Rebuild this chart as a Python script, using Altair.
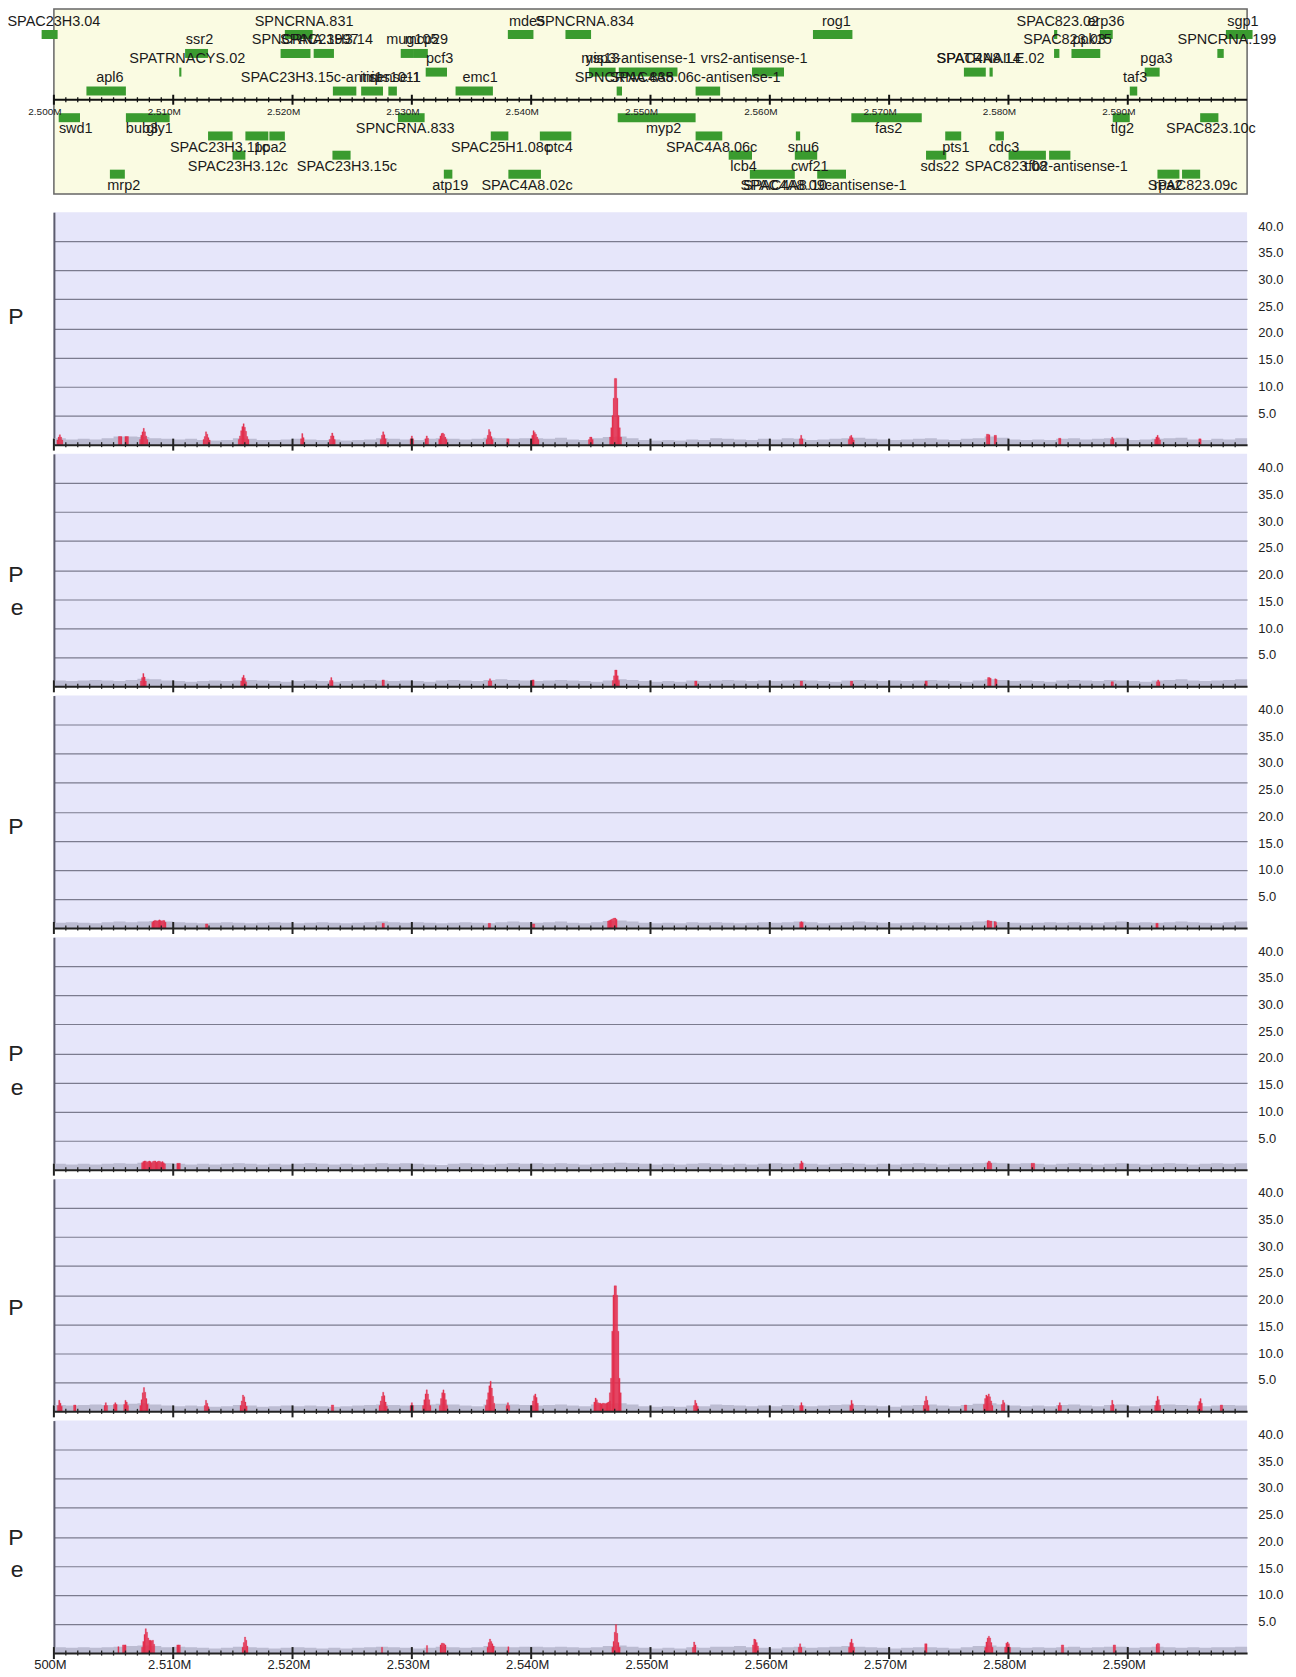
import altair as alt
import pandas as pd

FONT = "Liberation Sans, Arial, Helvetica, sans-serif"
X0, X1 = 2500000, 2600000
W = 1196
GENE_H = 185.5
PANEL_H = 233

GREEN = "#3a9b2f"
RED = "#e3314f"
GRAY = "#bcbcd2"
LAV = "#e6e6fa"
YEL = "#fafbe2"

# ---------------- gene track data ----------------
gene_names = [
    "SPAC23H3.04", "SPNCRNA.831", "mde5", "SPNCRNA.834", "rog1", "SPAC823.02", "erp36", "sgp1",
    "ssr2", "SPNCRNA.1997", "SPAC23H3.14", "mug105", "mcp29", "SPAC823.03", "ppk15", "SPNCRNA.199",
    "SPATRNACYS.02", "pcf3", "mis13", "ysp3-antisense-1", "vrs2-antisense-1", "SPAC4A8.14", "SPATRNAILE.02", "pga3",
    "apl6", "SPAC23H3.15c-antisense-1", "ini1", "rps1011", "emc1", "SPNCRNA.835", "SPAC4A8.06c-antisense-1", "taf3",
    "swd1", "bub3", "gly1", "SPNCRNA.833", "myp2", "fas2", "tlg2", "SPAC823.10c",
    "SPAC23H3.11c", "ppa2", "", "SPAC25H1.08c", "ptc4", "SPAC4A8.06c", "snu6", "pts1", "cdc3",
    "SPAC23H3.12c", "SPAC23H3.15c", "lcb4", "cwf21", "sds22", "SPAC823.08", "tfb2-antisense-1",
    "mrp2", "atp19", "SPAC4A8.02c", "SPAC4A8.09c", "SPAC4A8.10-antisense-1", "rpa2", "SPAC823.09c",
]
gene_starts = [
    2498972, 2519357, 2538045, 2542873, 2563615, 2583822, 2587666, 2598222,
    2510997, 2518999, 2521772, 2529067, 2530176, 2583822, 2585281, 2597506,
    2510506, 2531160, 2544840, 2547343, 2558507, 2576267, 2578413, 2591419,
    2502727, 2523381, 2525750, 2528030, 2533663, 2547164, 2553780, 2590168,
    2500402, 2506035, 2507466, 2528834, 2547253, 2566833, 2588739, 2596067,
    2512920, 2516049, 2518061, 2536614, 2540727, 2553780, 2562183, 2574701, 2578904,
    2514976, 2523345, 2556552, 2562094, 2573092, 2580010, 2583407,
    2504694, 2532680, 2538089, 2558328, 2563972, 2592487, 2594548,
]
gene_ends = [
    2500313, 2521682, 2540191, 2545019, 2566923, 2584090, 2588739, 2600458,
    2512920, 2521503, 2523471, 2530176, 2531339, 2584269, 2587695, 2598043,
    2510685, 2532948, 2547075, 2552260, 2561189, 2578100, 2578681, 2592671,
    2506035, 2525348, 2527583, 2528745, 2536793, 2547611, 2555837, 2590794,
    2502190, 2507466, 2509700, 2531070, 2553780, 2572734, 2590168, 2597596,
    2514976, 2517972, 2519357, 2538089, 2543365, 2556015, 2562541, 2576042, 2579619,
    2516049, 2524865, 2558507, 2563972, 2574790, 2583139, 2585191,
    2505946, 2533395, 2540817, 2562094, 2566386, 2594329, 2596067,
]
gene_lanes = (
    [1] * 8 + [2] * 8 + [3] * 8 + [4] * 8 + [5] * 8 + [6] * 9 + [7] * 7 + [8] * 7
)
gene_label_pos = [
    2500000, 2520967, 2539654, 2544483, 2565582, 2584135, 2588170, 2599650,
    2512205, 2521060, 2522845, 2530042, 2531222, 2584700, 2587020, 2598311,
    2511176, 2532322, 2545820, 2549175, 2558686, 2577500, 2578500, 2592403,
    2504694, 2523200, 2526600, 2528610, 2535720, 2547790, 2553740, 2590615,
    2501833, 2507380, 2508850, 2529443, 2551098, 2569962, 2589543, 2596962,
    2513880, 2518150, 2518150, 2537470, 2542340, 2555121, 2562810, 2575595, 2579619,
    2515420, 2524550, 2557805, 2563347, 2574254, 2579800, 2585660,
    2505856, 2533216, 2539654, 2561380, 2564600, 2593385, 2595442,
]

ruler_major = list(range(2500000, 2600000, 10000))
ruler_minor = [p for p in range(2501000, 2600000, 1000) if p % 10000 != 0]
grid_values = [5, 10, 15, 20, 25, 30, 35]
y_label_values = [5, 10, 15, 20, 25, 30, 35, 40]

# ---------------- background coverage (tenths, 1 kb bins) ----------------
bg_1 = [11,9,10,9,11,14,14,13,11,10, 9,10,8,7,8,11,10,8,8,9, 10,9,8,9,7,8,9,11,10,9,
        8,10,11,10,9,10,12,11,10,11, 11,10,12,9,8,11,13,14,11,8, 7,8,7,9,8,11,10,9,8,10,
        9,11,10,8,9,10,11,12,10,9, 8,9,10,11,9,8,10,11,14,12, 9,8,9,8,10,11,9,10,11,12,
        8,9,10,11,12,9,8,10,9,11]
bg_2 = [10,9,10,11,10,9,11,13,12,10, 9,8,9,10,9,10,11,10,9,8, 9,10,9,8,9,10,11,10,9,10,
        9,8,10,11,10,9,11,12,11,10, 9,10,11,10,9,8,10,12,11,9, 8,9,8,10,9,10,11,10,9,10,
        9,10,11,10,9,8,10,11,10,9, 10,9,10,11,10,9,8,10,12,11, 9,10,9,8,10,11,10,9,11,10,
        9,8,10,11,12,10,9,10,11,12]
bg_3 = [9,10,9,8,10,11,10,11,12,11, 10,9,8,9,10,9,8,9,10,9, 8,9,10,9,8,9,10,11,10,9,
        10,9,8,9,10,9,8,10,11,10, 9,10,11,9,8,10,12,13,11,9, 8,9,8,10,9,10,9,8,9,10,
        9,10,11,10,8,9,10,11,10,9, 8,9,10,9,8,9,10,11,12,10, 9,8,9,10,9,10,9,8,10,11,
        9,10,9,10,11,10,9,8,10,11]
bg_4 = [10,9,10,9,10,11,10,12,12,11, 10,9,10,9,10,11,10,9,10,9, 10,11,10,9,10,9,10,11,10,11,
        10,9,8,10,11,10,9,10,11,10, 11,10,11,10,9,10,11,12,11,10, 9,10,9,10,11,10,9,10,9,10,
        11,10,11,10,9,10,11,10,9,10, 9,10,11,10,9,10,10,11,12,11, 10,11,10,9,10,11,10,9,10,11,
        10,9,10,11,10,9,10,11,10,11]
bg_5 = [11,10,11,12,11,12,13,14,12,10, 9,10,9,8,9,11,10,8,9,10, 9,10,9,8,9,10,11,12,11,10,
        11,12,13,12,10,9,12,13,12,11, 10,11,12,10,9,12,13,14,12,9, 8,9,8,10,9,12,11,10,9,10,
        9,11,10,9,10,11,12,11,10,9, 8,10,11,12,10,9,11,13,14,12, 10,9,10,9,11,12,10,9,11,12,
        9,10,11,12,11,10,9,10,11,10]
bg_6 = [10,9,10,9,10,11,12,13,12,10, 11,10,9,8,9,11,10,9,8,9, 10,9,8,9,8,9,10,11,10,9,
        8,9,11,10,9,10,12,11,10,11, 11,10,11,10,9,10,12,13,11,9, 8,9,8,10,9,11,11,12,10,9,
        8,10,11,9,10,11,12,11,10,9, 8,9,10,10,9,8,10,12,13,11, 10,9,10,9,10,11,9,10,11,11,
        9,10,11,10,9,10,9,10,10,11]

# ---------------- enriched peaks: (centre, heights of consecutive 100 bp bins) ----------------
peaks_1 = [
    (2500500, [0.8, 1.3, 1.7, 1.3, 0.8]), (2505550, [1.4, 1.4, 1.4]), (2506100, [1.4, 1.4, 1.4]),
    (2507530, [0.9, 1.6, 2.2, 2.8, 2.2, 1.5, 0.9]), (2512800, [0.9, 1.4, 2.2, 1.8, 1.2, 0.8]),
    (2515900, [0.9, 1.5, 2.4, 3.1, 3.6, 3.0, 2.3, 1.4, 0.9]), (2520820, [1.0, 1.9, 1.2]),
    (2523330, [0.9, 1.5, 2.0, 1.5, 0.9]), (2527600, [0.9, 1.6, 2.2, 1.7, 1.0]),
    (2530000, [1.0, 1.5, 1.0]), (2531250, [1.0, 1.5, 1.1]),
    (2532600, [0.9, 1.5, 1.9, 2.0, 1.8, 1.3, 0.9]), (2536520, [0.9, 1.6, 2.6, 2.2, 1.4, 0.9]),
    (2538050, [1.0, 1.0]), (2540300, [0.9, 1.6, 2.4, 2.1, 1.8, 1.3, 0.9]),
    (2545000, [0.9, 1.3, 1.3, 0.9]),
    (2547070, [1.3, 2.9, 5.0, 8.0, 11.4, 11.4, 8.0, 5.0, 2.9, 1.3]),
    (2562630, [1.0, 1.6, 1.0]), (2566830, [0.9, 1.4, 1.6, 1.2, 0.8]),
    (2578300, [1.8, 1.8, 1.7]), (2578900, [1.6, 1.6]), (2584300, [1.1, 1.1]),
    (2588700, [0.9, 1.3, 1.0]), (2592500, [0.9, 1.3, 1.6, 1.2, 0.8]), (2596050, [1.0, 1.0]),
]
peaks_2 = [
    (2507500, [0.9, 1.5, 2.2, 1.6, 0.9]), (2515900, [0.9, 1.5, 1.9, 1.4, 0.8]),
    (2523250, [1.0, 1.5, 1.0]), (2527600, [1.1, 1.1]), (2536550, [0.9, 1.3, 0.9]),
    (2540150, [1.1, 1.1]), (2547100, [1.0, 1.8, 2.8, 2.8, 1.8, 1.0]), (2553800, [0.9, 0.9]),
    (2562650, [0.9, 0.9]), (2566850, [0.9, 0.9]), (2573100, [0.9, 0.9]),
    (2578400, [1.5, 1.5, 1.4]), (2578950, [1.3, 1.2]), (2588700, [0.8, 0.8]),
    (2592550, [0.8, 1.1, 0.8]),
]
peaks_3 = [
    (2508800, [1.0, 1.2, 1.3, 1.3, 1.2, 1.3, 1.4, 1.3, 1.2, 1.3, 1.3, 1.0]),
    (2512800, [0.7, 0.7]), (2527600, [0.8, 0.8]), (2536500, [0.8, 0.8]), (2540200, [0.7, 0.7]),
    (2546800, [1.2, 1.3, 1.4, 1.5, 1.6, 1.7, 1.7, 1.5]), (2562650, [1.0, 1.1, 1.0]),
    (2578400, [1.3, 1.3, 1.2, 1.2]), (2578900, [1.1, 1.0]), (2592450, [0.8, 0.8]),
]
peaks_4 = [
    (2508350, [1.2, 1.4, 1.5, 1.5, 1.3, 1.4, 1.5, 1.4, 1.2, 1.4,
               1.5, 1.5, 1.3, 1.4, 1.5, 1.4, 1.3, 1.4, 1.2, 1.0]),
    (2510450, [1.1, 1.1, 1.1]), (2562650, [1.0, 1.5, 1.2]), (2578400, [1.2, 1.5, 1.4, 1.1]),
    (2582050, [1.1, 1.1, 1.1]),
]
peaks_5 = [
    (2500500, [1.0, 1.9, 1.4, 0.9]), (2501750, [1.1, 1.1]), (2504350, [1.0, 1.5, 1.0]),
    (2505150, [1.2, 1.5, 1.2]), (2506050, [1.2, 1.9, 1.6, 1.0]),
    (2507550, [1.0, 2.0, 3.2, 4.1, 3.3, 2.2, 1.2]), (2512800, [1.0, 1.9, 1.4, 0.8]),
    (2515900, [1.0, 1.8, 2.8, 2.5, 1.6, 0.9]), (2523350, [1.1, 1.1]),
    (2527600, [1.0, 1.8, 2.6, 3.3, 2.7, 1.6, 0.9]), (2530000, [1.0, 1.5, 1.0]),
    (2531250, [1.0, 2.0, 3.0, 3.7, 3.0, 2.0, 1.0]), (2532650, [1.0, 2.2, 3.2, 3.7, 3.1, 2.0, 1.0]),
    (2536550, [1.0, 2.0, 3.2, 4.4, 5.2, 4.0, 2.6, 1.4]), (2538050, [1.0, 1.5, 1.0]),
    (2540300, [1.0, 1.8, 2.7, 3.0, 2.4, 1.4]),
    (2545950, [1.6, 2.3, 2.0, 1.5, 1.4, 1.4, 1.3, 1.4, 1.4, 1.3, 1.4, 1.5, 1.6, 1.8]),
    (2547050, [3.2, 5.7, 13.8, 20.0, 21.6, 21.6, 20.0, 13.8, 5.7, 3.2]),
    (2553800, [1.0, 1.9, 1.4, 0.9]), (2562650, [1.0, 1.5, 1.0]), (2566850, [1.0, 1.9, 1.3]),
    (2573100, [1.0, 1.8, 2.6, 1.9, 1.0]), (2576400, [1.1, 1.1]),
    (2578300, [1.2, 2.2, 2.8, 2.6, 3.0, 2.5, 1.8, 1.0]), (2579550, [1.2, 1.9, 1.5]),
    (2584300, [1.0, 1.5, 1.0]), (2588700, [1.0, 1.9, 1.2]), (2592500, [1.0, 1.8, 2.6, 2.0, 1.0]),
    (2596050, [1.0, 1.7, 2.2, 1.4]), (2597850, [1.1, 1.1]),
]
peaks_6 = [
    (2505410, [1.1]), (2505900, [1.4, 1.4, 1.4]),
    (2507900, [1.0, 2.0, 3.2, 4.2, 3.6, 2.6, 2.2, 2.2, 2.1, 2.2, 1.5]),
    (2510450, [1.4, 1.4, 1.4]), (2516020, [1.0, 1.8, 2.75, 2.2, 1.2]), (2527500, [1.0]),
    (2531270, [1.3]), (2532610, [1.4, 1.7, 1.7, 1.6, 1.4]),
    (2536600, [1.0, 1.8, 2.4, 2.0, 1.6, 1.2]), (2538090, [1.1]),
    (2547110, [1.0, 2.0, 3.6, 4.9, 3.4, 1.8, 1.0]), (2553660, [1.0, 1.9, 1.4]),
    (2558800, [1.4, 2.4, 2.3, 1.8, 1.2]), (2562540, [1.0, 1.6, 1.0]),
    (2566850, [1.0, 1.8, 2.4, 1.7, 1.0]), (2573080, [1.6, 1.6]),
    (2578360, [1.0, 1.9, 2.6, 2.9, 2.6, 1.8, 1.0]), (2579930, [1.0, 1.7, 1.9, 1.6, 1.0]),
    (2584530, [1.4, 1.4]), (2588880, [1.4, 1.4]), (2592520, [1.5, 1.7, 1.6]),
]

track_labels = [["P"], ["P", "e"], ["P"], ["P", "e"], ["P"], ["P", "e"]]

# ---------------- style / layout constants ----------------
LANE_BAR_Y = {1: 25.6, 2: 44.6, 3: 63.3, 4: 82.3, 5: 109.0, 6: 127.3, 7: 146.6, 8: 165.6}
BAR_H = 9
RULER_Y = 91.0
LABEL_BASELINES = [[111.7], [128.2, 161.5], [138.3], [124, 158], [136.3], [125, 157]]
TRACK_LABEL_X = -30.5

xs_g = alt.Scale(domain=[X0, X1], nice=False, zero=False)
ys_g = alt.Scale(domain=[0, GENE_H], reverse=True, nice=False, zero=False)

bar_y = [LANE_BAR_Y[l] for l in gene_lanes]
gdf = pd.DataFrame({
    "start": gene_starts, "end": gene_ends,
    "y0": [b - BAR_H / 2 for b in bar_y], "y1": [b + BAR_H / 2 for b in bar_y],
})
ldf = pd.DataFrame({
    "label": gene_names, "lx": gene_label_pos,
    "ly": [b - 13 if l <= 4 else b + 11.7 for b, l in zip(bar_y, gene_lanes)],
})
ldf = ldf[ldf["label"] != ""]

bars = alt.Chart(gdf).mark_rect(color=GREEN).encode(
    x=alt.X("start:Q", scale=xs_g, axis=None), x2="end:Q",
    y=alt.Y("y0:Q", scale=ys_g, axis=None), y2="y1:Q")
glabels = alt.Chart(ldf).mark_text(font=FONT, fontSize=14.5, color="#1a1a1a", baseline="middle").encode(
    x=alt.X("lx:Q", scale=xs_g, axis=None), y=alt.Y("ly:Q", scale=ys_g, axis=None), text="label:N")
ruler = alt.Chart(pd.DataFrame({"a": [X0], "b": [X1]})).mark_rule(color="#111", strokeWidth=2).encode(
    x=alt.X("a:Q", scale=xs_g, axis=None), x2="b:Q", y=alt.value(RULER_Y))
rmaj = alt.Chart(pd.DataFrame({"p": ruler_major})).mark_rule(color="#111", strokeWidth=2).encode(
    x=alt.X("p:Q", scale=xs_g, axis=None), y=alt.value(RULER_Y - 5), y2=alt.value(RULER_Y + 5))
rmin = alt.Chart(pd.DataFrame({"p": ruler_minor})).mark_rule(color="#111", strokeWidth=1.3).encode(
    x=alt.X("p:Q", scale=xs_g, axis=None), y=alt.value(RULER_Y - 2.5), y2=alt.value(RULER_Y + 2.5))
rlab = alt.Chart(pd.DataFrame({"p": ruler_major, "t": [f"{p / 1e6:.3f}M" for p in ruler_major]})).mark_text(
    font=FONT, fontSize=10, color="#222", align="right", dx=7.7, baseline="middle").encode(
    x=alt.X("p:Q", scale=xs_g, axis=None), y=alt.value(RULER_Y + 12), text="t:N")

gene_chart = alt.layer(bars, glabels, ruler, rmaj, rmin, rlab).properties(
    width=W, height=GENE_H,
    view=alt.ViewBackground(fill=YEL, stroke="#666", strokeWidth=1.5))


def expand(peaks):
    rows = []
    for c, hs in peaks:
        s = c - len(hs) * 50
        for i, h in enumerate(hs):
            rows.append({"start": s + i * 100, "end": s + (i + 1) * 100, "v": h})
    return pd.DataFrame(rows)


def panel(bg, peaks, lines, baselines, last):
    xs = alt.Scale(domain=[X0, X1], nice=False, zero=False)
    ys = alt.Scale(domain=[0, 40], nice=False, zero=False)
    xaxis = alt.Axis(title=None, domain=True, domainColor="#222", domainWidth=2, ticks=False,
                     grid=False, labels=last, values=ruler_major, zindex=1,
                     labelExpr="datum.value == 2500000 ? '500M' : format(datum.value / 1000000, '.3f') + 'M'",
                     labelFont=FONT, labelFontSize=13, labelColor="#222", labelPadding=5,
                     labelOffset=-4, labelFlush=False, labelOverlap=False)
    yaxis = alt.Axis(title=None, orient="left", domain=True, domainColor="#5c5c6e", domainWidth=2,
                     ticks=False, labels=False, grid=True, gridColor="#7b7b8e", gridWidth=1.2,
                     values=grid_values)
    bgdf = pd.DataFrame({"pos": [X0 + i * 1000 for i in range(len(bg))] + [X1],
                         "v": [b / 10 for b in bg] + [bg[-1] / 10]})
    area = alt.Chart(bgdf).mark_area(interpolate="step-after", color=GRAY).encode(
        x=alt.X("pos:Q", scale=xs, axis=xaxis), y=alt.Y("v:Q", scale=ys, axis=yaxis))
    red = alt.Chart(expand(peaks)).mark_rect(color=RED, stroke=RED, strokeWidth=0.3).encode(
        x=alt.X("start:Q", scale=xs, axis=xaxis), x2="end:Q",
        y=alt.Y("v:Q", scale=ys, axis=yaxis), y2=alt.datum(0))
    tmaj = alt.Chart(pd.DataFrame({"pos": ruler_major})).mark_rule(color="#222", strokeWidth=2).encode(
        x=alt.X("pos:Q", scale=xs, axis=xaxis), y=alt.value(PANEL_H - 6), y2=alt.value(PANEL_H + 6))
    tmin = alt.Chart(pd.DataFrame({"pos": ruler_minor})).mark_rule(color="#222", strokeWidth=1.3).encode(
        x=alt.X("pos:Q", scale=xs, axis=xaxis), y=alt.value(PANEL_H - 2.5), y2=alt.value(PANEL_H + 2.5))
    texts = []
    for t, b in zip(lines, baselines):
        texts.append(alt.Chart(pd.DataFrame({"t": [t]})).mark_text(
            font=FONT, fontSize=23, color="#222", align="right", baseline="alphabetic").encode(
            text="t:N", x=alt.value(TRACK_LABEL_X), y=alt.value(b)))
    inner = alt.layer(area, red, tmaj, tmin, *texts)
    right = alt.Chart(pd.DataFrame({"v": y_label_values})).mark_tick(opacity=0).encode(
        y=alt.Y("v:Q", scale=alt.Scale(domain=[-0.9, 42.6], nice=False, zero=False),
                axis=alt.Axis(title=None, orient="right", values=y_label_values, format=".1f",
                              domain=False, ticks=False, grid=False, labelPadding=10.7,
                              labelFont=FONT, labelFontSize=13, labelColor="#222")))
    return alt.layer(inner, right).resolve_scale(y="independent").properties(
        width=W, height=PANEL_H, view=alt.ViewBackground(fill=LAV, stroke="transparent"))


bgs = [bg_1, bg_2, bg_3, bg_4, bg_5, bg_6]
pks = [peaks_1, peaks_2, peaks_3, peaks_4, peaks_5, peaks_6]
panels = [panel(bgs[i], pks[i], track_labels[i], LABEL_BASELINES[i], i == 5) for i in range(6)]

chart = alt.vconcat(
    gene_chart,
    alt.vconcat(*panels, spacing=9.25, bounds="flush"),
    spacing=17.7, bounds="flush",
).properties(padding={"left": -2, "top": -2, "right": 4, "bottom": 4}).configure_view(strokeWidth=0)

chart.save("out.html", embed_options={"renderer": "svg", "actions": False})
